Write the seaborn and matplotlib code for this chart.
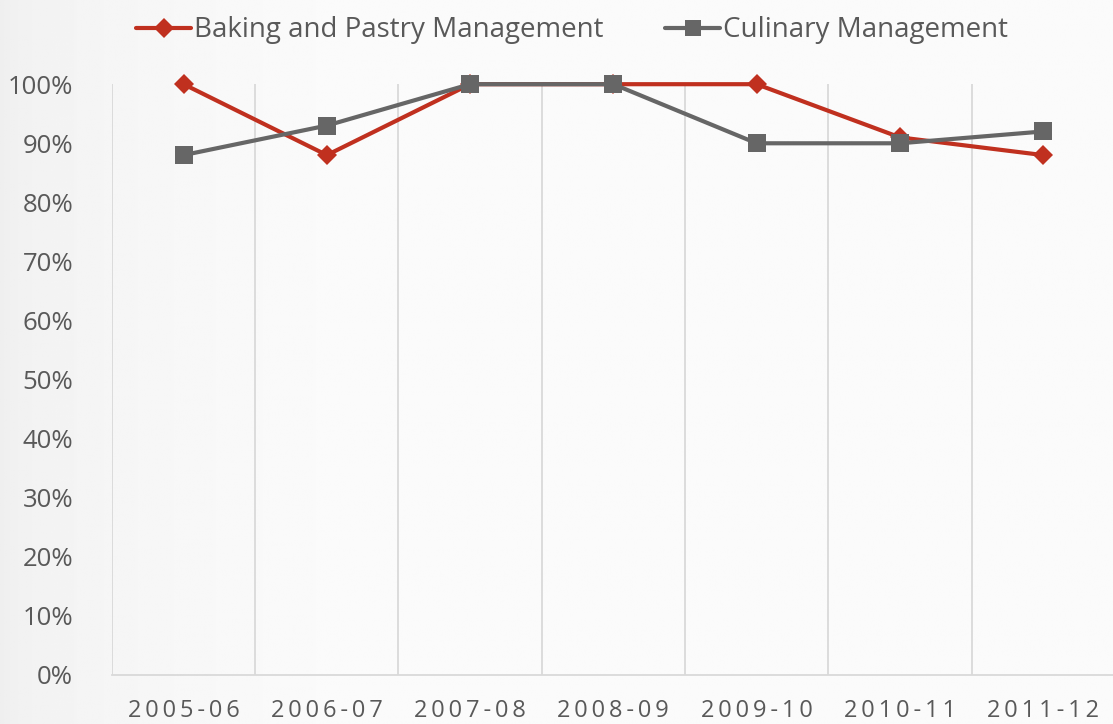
import numpy as np
import pandas as pd
import matplotlib.pyplot as plt
from matplotlib.ticker import PercentFormatter
import seaborn as sns

# Data
years = ['2005-06', '2006-07', '2007-08', '2008-09', '2009-10', '2010-11', '2011-12']
baking = [1.00, 0.88, 1.00, 1.00, 1.00, 0.91, 0.88]
culinary = [0.88, 0.93, 1.00, 1.00, 0.90, 0.90, 0.92]
series_names = ['Baking and Pastry Management', 'Culinary Management']

df = pd.DataFrame({
    'year': years * 2,
    'rate': baking + culinary,
    'program': [series_names[0]] * len(years) + [series_names[1]] * len(years),
})

sns.set_style('white')
plt.rcParams['font.family'] = ['Open Sans', 'DejaVu Sans']
text_color = '#595959'

fig = plt.figure(figsize=(11.13, 7.24), dpi=100)

# soft background gradient, a bit darker at the left edge
bg = fig.add_axes([0, 0, 1, 1], zorder=-10)
gx = np.linspace(0, 1, 400)
grad = 0.935 + 0.047 * np.clip(gx / 0.3, 0, 1) ** 0.5
bg.imshow(np.tile(grad, (10, 1)), cmap='gray', vmin=0, vmax=1, aspect='auto',
          extent=[0, 1, 0, 1])
bg.axis('off')

ax = fig.add_axes([0.1006, 0.0677, 0.901, 0.816])
ax.patch.set_alpha(0)

sns.lineplot(data=df, x='year', y='rate', hue='program', style='program',
             palette={series_names[0]: '#C0301F', series_names[1]: '#666666'},
             markers={series_names[0]: 'D', series_names[1]: 's'},
             dashes=False, sort=False, linewidth=3, markeredgewidth=0,
             ax=ax, legend=True)
for line in ax.lines:
    line.set_clip_on(False)
    if line.get_marker() == 'D':
        line.set_markersize(10)
    else:
        line.set_markersize(13)

ax.set_xlim(-0.5, len(years) - 0.5)
ax.set_ylim(0, 1.0)
ax.set_yticks(np.arange(0, 1.01, 0.1))
ax.yaxis.set_major_formatter(PercentFormatter(1.0, decimals=0))
ax.set_xticks(range(len(years)))
ax.set_xticklabels(['\u2009'.join(y) for y in years])
ax.set_xticks(np.arange(-0.5, len(years)), minor=True)
ax.grid(True, which='minor', axis='x', color='#d9d9d9', linewidth=1.3)
ax.grid(False, which='major')
ax.tick_params(axis='y', length=0, pad=28, labelsize=18.5, labelcolor=text_color)
ax.tick_params(axis='x', which='both', length=0, pad=17, labelsize=17, labelcolor=text_color)
ax.set_xlabel('')
ax.set_ylabel('')

for side in ['top', 'right', 'left']:
    ax.spines[side].set_visible(False)
ax.spines['bottom'].set_color('#d9d9d9')
ax.spines['bottom'].set_linewidth(1.3)

handles, labels = ax.get_legend_handles_labels()
ax.get_legend().remove()
for h in handles:
    h.set_markersize(10 if h.get_marker() == 'D' else 12)
fig.legend(handles, labels, loc='upper center', bbox_to_anchor=(0.514, 1.012),
           ncol=2, frameon=False, fontsize=20, labelcolor=text_color,
           handlelength=2.0, handletextpad=0.1, columnspacing=2.2)

fig.savefig('out.png', dpi=100)
